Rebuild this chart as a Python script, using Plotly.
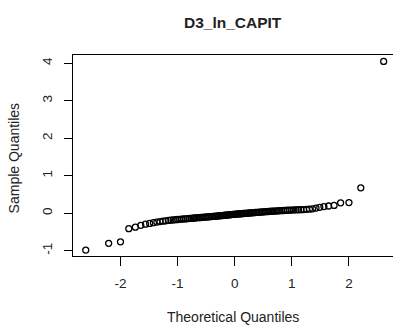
import plotly.graph_objects as go
from statistics import NormalDist

title = "D3_ln_CAPIT"
x_label = "Theoretical Quantiles"
y_label = "Sample Quantiles"

# sorted sample values (n = 110)
sample = [
    -0.98, -0.80, -0.76, -0.41, -0.37, -0.32, -0.29, -0.27, -0.25, -0.235,
    -0.22, -0.21, -0.20, -0.19, -0.183, -0.176, -0.17, -0.165, -0.16, -0.155,
    -0.15, -0.147, -0.143, -0.138, -0.133, -0.13, -0.126, -0.122, -0.118, -0.115,
    -0.112, -0.108, -0.104, -0.101, -0.098, -0.094, -0.09, -0.087, -0.084, -0.08,
    -0.077, -0.073, -0.07, -0.066, -0.063, -0.06, -0.056, -0.052, -0.049, -0.046,
    -0.042, -0.039, -0.035, -0.031, -0.028, -0.024, -0.021, -0.018, -0.015, -0.012,
    -0.009, -0.006, -0.003, 0.0, 0.003, 0.006, 0.009, 0.012, 0.015, 0.018,
    0.021, 0.024, 0.027, 0.03, 0.033, 0.036, 0.039, 0.042, 0.045, 0.048,
    0.051, 0.054, 0.057, 0.06, 0.063, 0.066, 0.069, 0.072, 0.075, 0.078,
    0.081, 0.084, 0.087, 0.09, 0.092, 0.094, 0.097, 0.10, 0.105, 0.11,
    0.12, 0.14, 0.16, 0.18, 0.195, 0.21, 0.28, 0.285, 0.68, 4.05,
]

x_ticks = [-2, -1, 0, 1, 2]
y_ticks = [-1, 0, 1, 2, 3, 4]

# theoretical normal quantiles (ppoints, as qqnorm does)
n = len(sample)
a = 3 / 8 if n <= 10 else 0.5
nd = NormalDist()
theoretical = [nd.inv_cdf((i + 1 - a) / (n + 1 - 2 * a)) for i in range(n)]

fig = go.Figure(go.Scatter(
    x=theoretical, y=sample, mode="markers",
    marker=dict(symbol="circle-open", size=6, color="black", line=dict(width=1.3, color="black")),
    hoverinfo="skip",
))

font = dict(family="Liberation Sans, Arial, sans-serif", size=14, color="#222")

fig.update_layout(
    width=393, height=332,
    margin=dict(l=73, r=0, t=55, b=76),
    paper_bgcolor="white", plot_bgcolor="white",
    showlegend=False,
    font=font,
    xaxis=dict(
        range=[-2.832, 2.772], tickvals=x_ticks, ticktext=[str(v) for v in x_ticks],
        showgrid=False, zeroline=False, showline=True, mirror=True,
        linecolor="black", linewidth=1.3, ticks="outside", ticklen=9,
        tickwidth=1.3, tickcolor="black", ticklabelstandoff=6,
        tickfont=dict(size=13.5),
    ),
    yaxis=dict(
        range=[-1.139, 4.221], tickvals=y_ticks, ticktext=[str(v) for v in y_ticks],
        showgrid=False, zeroline=False, showline=True, mirror=False,
        linecolor="black", linewidth=1.3, ticks="outside", ticklen=8,
        tickwidth=1.3, tickcolor="black", tickangle=-90, ticklabelstandoff=6,
        tickfont=dict(size=13.5),
    ),
    annotations=[
        dict(text="<b>" + title + "</b>", xref="paper", yref="paper", x=0.5, y=1.16,
             xanchor="center", yanchor="middle", showarrow=False,
             font=dict(family="Liberation Sans, Arial, sans-serif", size=15.5, color="#222")),
        dict(text=x_label, xref="paper", yref="paper", x=0.5, y=-0.302,
             xanchor="center", yanchor="middle", showarrow=False, font=font),
        dict(text=y_label, xref="paper", yref="paper", x=-0.186, y=0.488,
             xanchor="center", yanchor="middle", showarrow=False, textangle=-90, font=font),
    ],
)

fig.write_html("out.html")
